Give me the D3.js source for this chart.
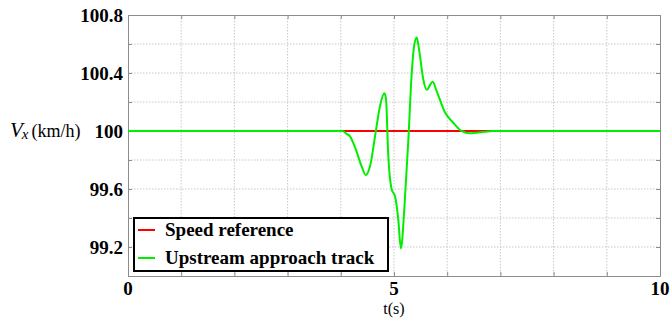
<!DOCTYPE html>
<html>
<head>
<meta charset="utf-8">
<script src="https://cdn.jsdelivr.net/npm/d3@7"></script>
<style>
  body { margin: 0; background: #fff; }
</style>
</head>
<body>
<svg id="chart" width="671" height="318"></svg>
<script>
// time axis (s) and tracked speed (km/h)
const trackTime  = [0, 4.03, 4.11, 4.17, 4.27, 4.39, 4.47, 4.55, 4.655, 4.737, 4.82, 4.85, 4.89, 4.957, 5.02, 5.08, 5.13,
                    5.2, 5.27, 5.33, 5.38, 5.427, 5.47, 5.55, 5.615, 5.727, 5.80, 5.96, 6.115, 6.27, 6.43, 6.58, 6.71, 6.85, 10];
const trackSpeed = [100, 100, 99.98, 99.965, 99.885, 99.758, 99.696, 99.758, 99.99, 100.173, 100.26, 100.22, 99.85, 99.597, 99.55, 99.39, 99.19,
                    99.5, 99.94, 100.38, 100.59, 100.645, 100.565, 100.357, 100.284, 100.34, 100.277, 100.127, 100.057, 100.0, 99.984, 99.99, 99.995, 100, 100];
const refTime  = [0, 10];
const refSpeed = [100, 100];

const xTicks = d3.range(0, 10.01, 1);
const xLabels = [0, 5, 10];
const yTicks = d3.range(99, 100.81, 0.2).map(v => +v.toFixed(1));
const yLabels = [99.2, 99.6, 100, 100.4, 100.8];
const seriesNames = ["Speed reference", "Upstream approach track"];
const seriesColors = ["#ff0000", "#00ee00"];

const serif = "'Liberation Serif', 'Times New Roman', 'DejaVu Serif', serif";
const mLeft = 128, mTop = 15, w = 532, h = 261;
const svg = d3.select("#chart");

let x = d3.scaleLinear().domain([0, 10]).range([mLeft, mLeft + w]);
let y = d3.scaleLinear().domain([99, 100.8]).range([mTop + h, mTop]);

// grid
let grid = svg.append("g").attr("stroke", "#c8c8c8").attr("stroke-dasharray", "1.5,1.5").attr("stroke-width", 1);
grid.selectAll("line.vx").data(xTicks.slice(1, -1)).enter().append("line")
    .attr("x1", d => x(d)).attr("x2", d => x(d)).attr("y1", mTop).attr("y2", mTop + h);
grid.selectAll("line.hy").data(yTicks.slice(1, -1)).enter().append("line")
    .attr("y1", d => y(d)).attr("y2", d => y(d)).attr("x1", mLeft).attr("x2", mLeft + w);

// axes (inside ticks on all four sides)
function axisBox(axis, tr) {
  svg.append("g").attr("transform", tr).call(axis)
    .call(g => g.selectAll("text").remove())
    .call(g => g.select(".domain").attr("stroke", "#8c8c8c"))
    .call(g => g.selectAll(".tick line").attr("stroke", "#8c8c8c"));
}
axisBox(d3.axisBottom(x).tickValues(xTicks).tickSizeInner(-4).tickSizeOuter(0), `translate(0,${mTop + h})`);
axisBox(d3.axisTop(x).tickValues(xTicks).tickSizeInner(-4).tickSizeOuter(0), `translate(0,${mTop})`);
axisBox(d3.axisLeft(y).tickValues(yTicks).tickSizeInner(-4).tickSizeOuter(0), `translate(${mLeft},0)`);
axisBox(d3.axisRight(y).tickValues(yTicks).tickSizeInner(-4).tickSizeOuter(0), `translate(${mLeft + w},0)`);

// tick labels
svg.selectAll("text.xl").data(xLabels).enter().append("text")
    .attr("x", d => x(d)).attr("y", 295)
    .attr("text-anchor", "middle").attr("font-family", serif).attr("font-size", 19).attr("font-weight", "bold")
    .text(d => d);
svg.selectAll("text.yl").data(yLabels).enter().append("text")
    .attr("x", 123).attr("y", d => y(d) + 6.5)
    .attr("text-anchor", "end").attr("font-family", serif).attr("font-size", 19).attr("font-weight", "bold")
    .text(d => d);

// axis titles
svg.append("text").attr("x", x(5)).attr("y", 313.5).attr("text-anchor", "middle")
    .attr("font-family", serif).attr("font-size", 16).text("t(s)");
let yt = svg.append("text").attr("x", 10).attr("y", 137).attr("font-family", serif);
yt.append("tspan").attr("font-style", "italic").attr("font-size", 21).text("V");
yt.append("tspan").attr("font-style", "italic").attr("font-size", 15).attr("dy", 2).attr("dx", -1).text("x");
yt.append("tspan").attr("font-size", 18).attr("dy", -2).attr("dx", 3).text("(km/h)");

// lines
let line = d3.line().x(d => x(d[0])).y(d => y(d[1])).curve(d3.curveMonotoneX);
let plot = svg.append("g");
plot.append("path").datum(d3.zip(refTime, refSpeed))
    .attr("d", line).attr("fill", "none").attr("stroke", seriesColors[0]).attr("stroke-width", 2);
plot.append("path").datum(d3.zip(trackTime, trackSpeed))
    .attr("d", line).attr("fill", "none").attr("stroke", seriesColors[1]).attr("stroke-width", 2);

// legend
let lg = svg.append("g");
lg.append("rect").attr("x", 134).attr("y", 218).attr("width", 254).attr("height", 53)
    .attr("fill", "#fff").attr("stroke", "#000").attr("stroke-width", 2);
seriesNames.forEach((name, i) => {
  let yy = 230 + i * 28;
  lg.append("line").attr("x1", 138).attr("x2", 155).attr("y1", yy).attr("y2", yy)
      .attr("stroke", seriesColors[i]).attr("stroke-width", 2);
  lg.append("text").attr("x", 165).attr("y", yy + 6)
      .attr("font-family", serif).attr("font-size", 19).attr("font-weight", "bold").text(name);
});
</script>
</body>
</html>
